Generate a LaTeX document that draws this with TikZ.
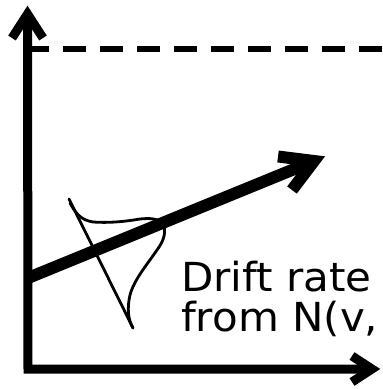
\documentclass[tikz,border=0pt]{standalone}
\usepackage{fontspec}
\setmainfont{DejaVu Sans}
\newfontfamily\labfont[FakeStretch=1.05]{DejaVu Sans}
\begin{document}
\begin{tikzpicture}[x=1pt,y=-1pt,
  axis/.style={line width=9pt,line join=miter,miter limit=10},
  drift/.style={line width=12pt,line join=miter,miter limit=10},
  sketch/.style={line width=2.8pt,line cap=round,line join=round},
  label/.style={anchor=base west,inner sep=0pt,font=\labfont\fontsize{40pt}{40pt}\selectfont}]
\useasboundingbox (0,0) rectangle (383,389);
\fill[white] (0,0) rectangle (383,389);
% named points
\coordinate (ytip) at (27.5,14);
\coordinate (origin) at (28,369);
\coordinate (xtip) at (372,369);
\coordinate (dstart) at (28,278);
\coordinate (dtip) at (314,161);
% boundary (dashed)
\draw[line width=6pt,dash pattern=on 23pt off 14pt] (26,49) -- (390,49);
% axes
\draw[axis] (ytip) -- (origin) -- (xtip);
\draw[axis] (12,38) -- (ytip) -- (43,38);
\draw[axis] (352,356) -- (xtip) -- (352,382);
% hand-drawn distribution
\draw[sketch] (69,199) -- (133,328);
\draw[sketch] (70,203) .. controls (75,212) and (80,220) .. (93,222)
  .. controls (108,223) and (122,222) .. (140,219)
  .. controls (150,218) and (160,218) .. (164,226)
  .. controls (166,234) and (163,242) .. (157,250)
  .. controls (146,266) and (134,280) .. (130,295)
  .. controls (127,308) and (128,320) .. (133,328);
% drift arrow
\draw[drift] (dstart) -- (dtip);
\draw[drift] (278,156.5) -- (dtip) -- (292,190);
% text
\node[label] (l1) at (181,291) {Drift rate};
\node[label] (l2) at (181,331) {from N(v,};
\end{tikzpicture}
\end{document}
